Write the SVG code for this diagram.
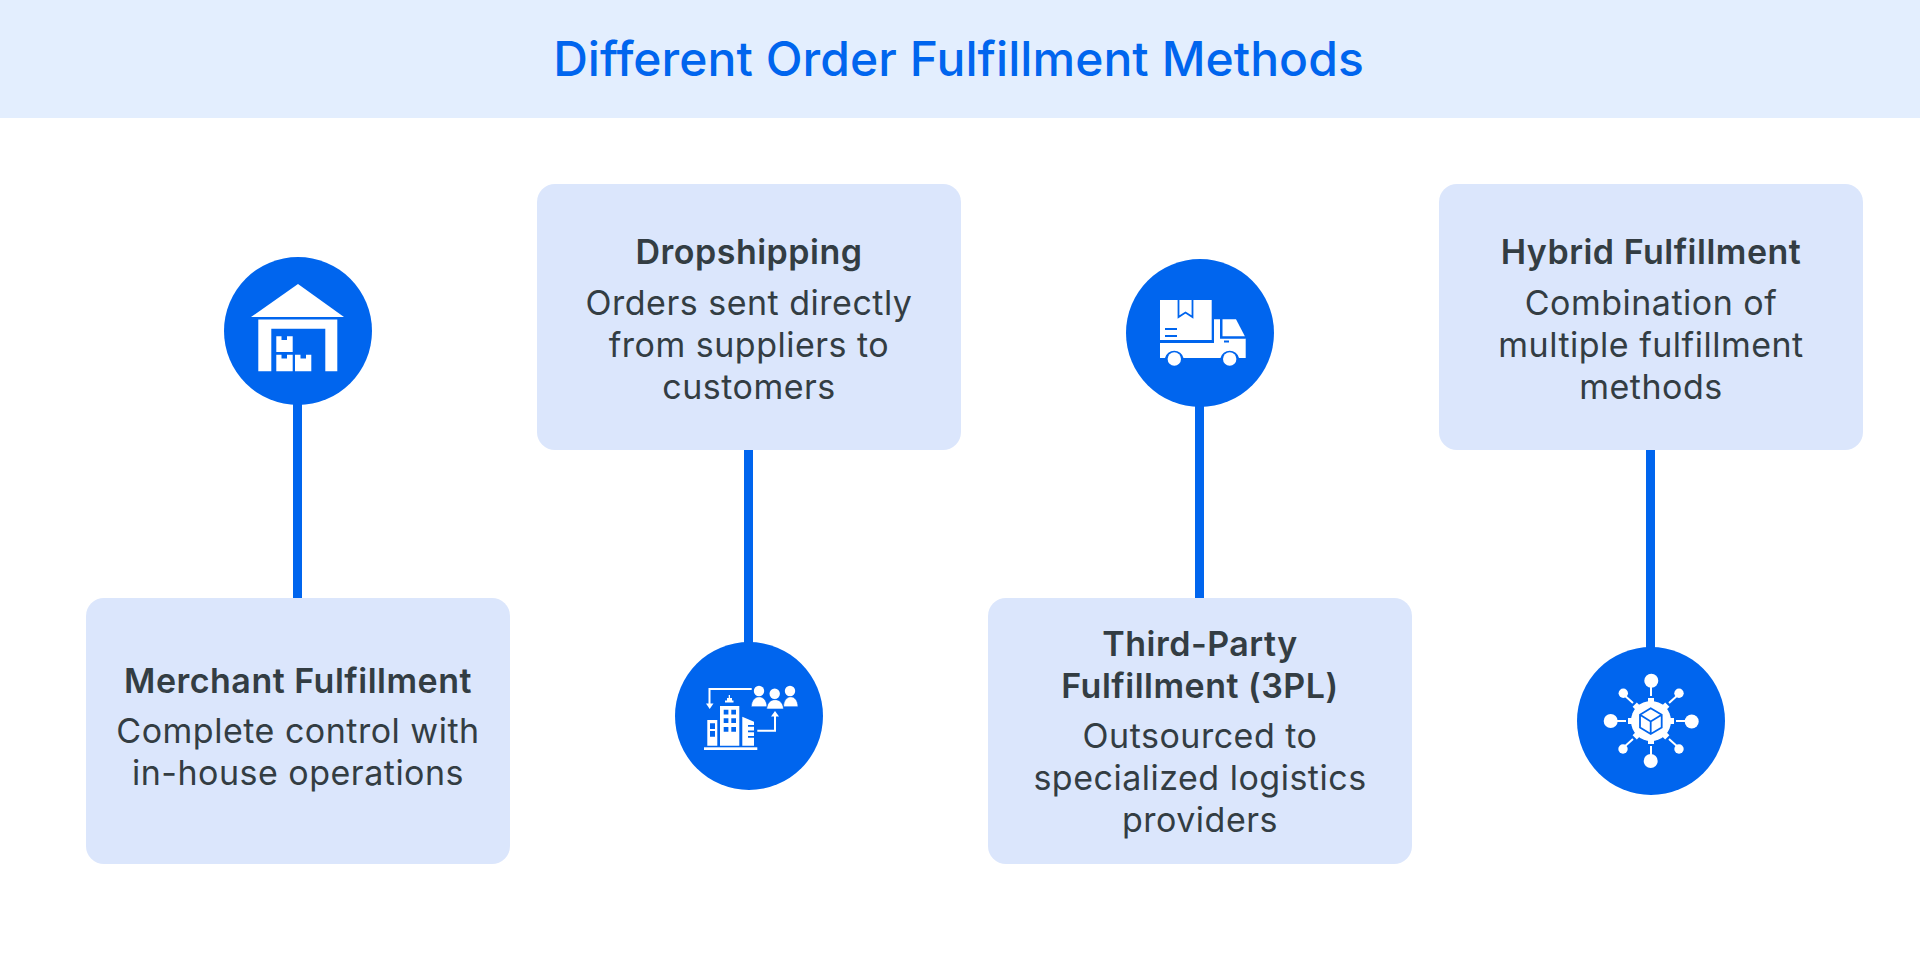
<svg xmlns="http://www.w3.org/2000/svg" width="1920" height="954" viewBox="0 0 1920 954">
<style>
.box{fill:#dbe6fc}
.c{fill:#0065ee}
.w{fill:#fff}
.k{stroke:#0065ee;fill:none}
.ws{stroke:#fff;fill:none}
.line{stroke:#0065ee;stroke-width:9;fill:none}
text{font-family:Inter,"Liberation Sans",sans-serif;text-anchor:middle;fill:#333d43;font-size:34px;letter-spacing:.5px;font-variant-ligatures:none}
.h{font-weight:600}
.title{font-size:48px;font-weight:500;fill:#0065ee;letter-spacing:.06px}
</style>
<rect id="banner" x="0" y="0" width="1920" height="118" fill="#e3eefe"/>
<text id="title" class="title" x="958.500" y="76">Different Order Fulfillment Methods</text>
<g id="connectors">
<line class="line" x1="297.500" y1="400" x2="297.500" y2="598"/>
<line class="line" x1="748.500" y1="450" x2="748.500" y2="650"/>
<line class="line" x1="1199.500" y1="400" x2="1199.500" y2="598"/>
<line class="line" x1="1650.500" y1="450" x2="1650.500" y2="655"/>
</g>
<g id="merchant">
<rect class="box" x="86" y="598" width="424" height="266" rx="18"/>
<text class="h" x="298" y="693">Merchant Fulfillment</text>
<text x="298" y="743">Complete control with</text>
<text x="298" y="785">in-house operations</text>
<circle class="c" cx="298" cy="331" r="74"/>
<path class="w" d="M251 317L298 284L344 317Z"/>
<path class="w" d="M258.300 319.500H337.300V371.300H325.300V328.700H271.300V371.300H258.300Z"/>
<path class="w" d="M276.300 336.300H281.500V340H287V336.300H292.700V352H276.300ZM276.300 354.700H281.500V358.400H287V354.700H292.700V371.300H276.300ZM295 354.700H300.500V358.400H306V354.700H311.300V371.300H295Z"/>
</g>
<g id="dropshipping">
<rect class="box" x="537" y="184" width="424" height="266" rx="18"/>
<text class="h" x="749" y="264">Dropshipping</text>
<text x="749" y="314.500">Orders sent directly</text>
<text x="749" y="356.500">from suppliers to</text>
<text x="749" y="398.500">customers</text>
<circle class="c" cx="749" cy="716" r="74"/>
<path class="ws" stroke-width="2" d="M751.700 689H709.500V704"/>
<path class="w" d="M706 703.500H713.500L709.700 709Z"/>
<circle class="w" cx="759" cy="691" r="5.200"/><circle class="w" cx="774.700" cy="693.700" r="5.200"/><circle class="w" cx="790" cy="691" r="5.200"/>
<path class="w" d="M751.300 706.700C751.800 693.500 766.500 693.500 767 706.700ZM766.700 709C767.200 696.500 783 696.500 783.500 709ZM783.500 706.700C784 693.500 797.500 693.500 798 706.700Z" stroke="#0065ee" stroke-width=".6"/>
<path class="w" d="M725 700.500H733.500V702.500H725ZM728.700 695H730V700.500H728.700ZM727 698H732V700.500H727Z"/>
<path class="w" d="M720 706H739.300V745.700H720ZM707.300 720H717.300V745.700H707.300ZM742.300 716.700L754 721.700V725H748V726.800H754V730.500H748V732.300H754V736H748V737.800H754V745.700H742.300Z"/>
<path class="c" d="M723.700 709.700H728.400V714.400H723.700ZM731.300 709.700H736V714.400H731.300ZM723.700 718.300H728.400V723H723.700ZM731.300 718.300H736V723H731.300ZM723.700 727H728.400V731.700H723.700ZM731.300 727H736V731.700H731.300ZM710 723.300H715V729H710ZM710 731H715V736.700H710Z"/>
<rect class="w" x="704" y="747.300" width="53.300" height="2.700"/>
<path class="ws" stroke-width="2" d="M757.300 730.700H775V716"/>
<path class="w" d="M771 716.500H779L775 711Z"/>
</g>
<g id="thirdparty">
<rect class="box" x="988" y="598" width="424" height="266" rx="18"/>
<text class="h" x="1200" y="656">Third-Party</text>
<text class="h" x="1200" y="698">Fulfillment (3PL)</text>
<text x="1200" y="747.500">Outsourced to</text>
<text x="1200" y="789.500">specialized logistics</text>
<text x="1200" y="831.500">providers</text>
<circle class="c" cx="1200" cy="333" r="74"/>
<path class="w" d="M1160 300H1211.700V340H1160Z"/>
<path class="w" d="M1160 343H1214V319.300H1220V338.500H1245.700V358H1239A9.500 9.500 0 0 0 1220.500 358H1183.500A9.500 9.500 0 0 0 1165 358H1160Z"/>
<path class="w" d="M1222.500 319.300H1236L1245 336.500H1222.500Z"/>
<circle class="w" cx="1174.300" cy="359" r="6.700"/><circle class="w" cx="1229.700" cy="359" r="6.700"/>
<path class="k" stroke-width="1.800" d="M1178.500 300V317L1185.500 312.500L1192.500 317V300M1165 329H1177M1165 336H1177M1224 341.500H1229M1221 319V337.500H1245.700"/>
</g>
<g id="hybrid">
<rect class="box" x="1439" y="184" width="424" height="266" rx="18"/>
<text class="h" x="1651" y="264">Hybrid Fulfillment</text>
<text x="1651" y="314.500">Combination of</text>
<text x="1651" y="356.500">multiple fulfillment</text>
<text x="1651" y="398.500">methods</text>
<circle class="c" cx="1651" cy="721" r="74"/>
<g class="ws" stroke-width="2"><path d="M1651 696V680M1651 746V762M1626 721H1610M1676 721H1692M1633 703L1623 694M1669 703L1679 694M1633 739L1623 748M1669 739L1679 748"/></g>
<circle class="w" cx="1651.300" cy="680.700" r="7"/><circle class="w" cx="1650.700" cy="761" r="7"/><circle class="w" cx="1610.700" cy="721" r="7"/><circle class="w" cx="1691.700" cy="721.500" r="7"/>
<circle class="w" cx="1623.300" cy="693.300" r="4.700"/><circle class="w" cx="1679" cy="693.300" r="4.700"/><circle class="w" cx="1623" cy="749" r="4.700"/><circle class="w" cx="1679" cy="749" r="4.700"/>
<circle class="w" cx="1651" cy="721" r="20"/>
<path class="w" stroke="#fff" stroke-width="6" d="M1651 698V744M1628 721H1674M1634.700 704.700L1667.300 737.300M1667.300 704.700L1634.700 737.300"/>
<path class="k" stroke-width="1.800" d="M1650.700 708.300L1661.700 714.700V727.500L1650.700 734L1640 727.500V714.700ZM1640 714.700L1650.700 721.500L1661.700 714.700M1650.700 721.500V734"/>
</g>
</svg>
